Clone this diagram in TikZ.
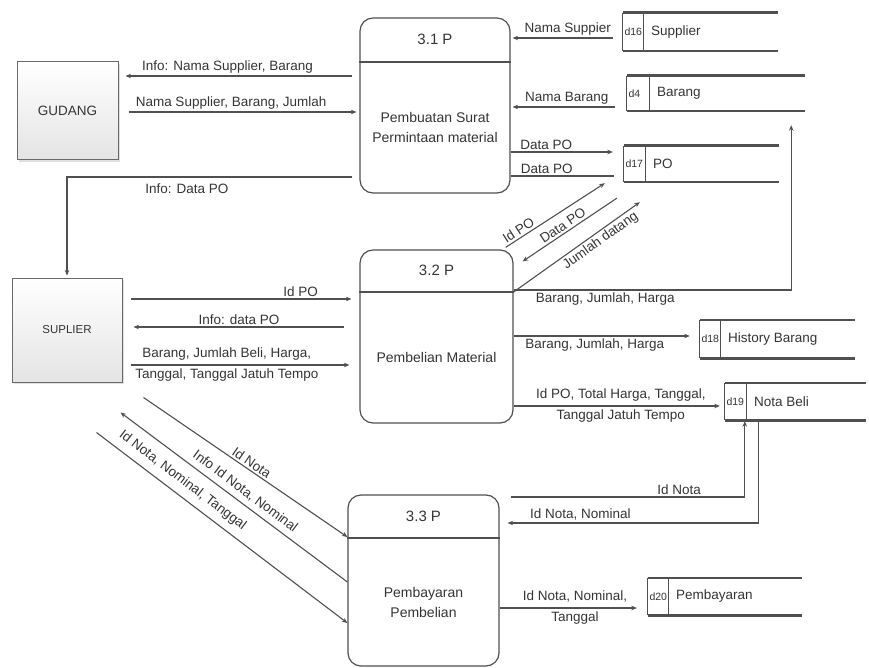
\documentclass[tikz,border=0pt]{standalone}
\usepackage{fontspec}
\setmainfont{Liberation Sans}
\usetikzlibrary{arrows.meta,calc,shadows}
\definecolor{lc}{HTML}{505050}
\definecolor{tc}{HTML}{353535}
\definecolor{boxfill}{HTML}{EFEFEF}
\newcommand\lblfont{\fontsize{13.5}{16}\selectfont}
\newcommand\idfont{\fontsize{10.5}{12}\selectfont}
\newcommand\ttlfont{\fontsize{15}{18}\selectfont}
\tikzset{
  line/.style={draw=lc, line width=1.1pt},
  flow/.style={line, -{Stealth[length=5.5pt,width=4.5pt]}},
  proc/.style={draw=lc, line width=1.2pt, rounded corners=13pt, inner sep=0pt},
  ext/.style={draw=lc!85, top color=white, bottom color=boxfill!90!gray, line width=1pt, inner sep=0pt,
    drop shadow={shadow xshift=2pt, shadow yshift=-2pt, opacity=.25}},
  storebox/.style={inner sep=0pt},
  storeedge/.style={draw=lc, line width=2.6pt},
  storeside/.style={draw=lc, line width=1.3pt},
  lbl/.style={font=\lblfont, text=tc, inner sep=2pt},
  lbltwo/.style={font=\lblfont, text=tc, inner sep=0pt, align=center},
  idlbl/.style={font=\idfont, text=tc, inner sep=0pt},
  ttl/.style={font=\ttlfont, text=tc, inner sep=0pt},
  body/.style={font=\fontsize{14}{20}\selectfont, text=tc, inner sep=0pt, align=center},
}
\newcommand\dfdstore[4]{%
  \draw[storeedge] (#1.north west) -- (#1.north east);
  \draw[storeedge] (#1.south west) -- (#1.south east);
  \draw[storeside] (#1.north west) -- (#1.south west);
  \coordinate (#1div) at ($(#1.north west)+(#2,0)$);
  \draw[storeside] (#1div) -- (#1div |- #1.south);
  \node[idlbl, anchor=west] (#1id) at ($(#1.west)+(1.5,0)$) {#3};
  \node[lbl, anchor=west] (#1name) at ($(#1div |- #1.west)+(5,0)$) {#4};
}
\begin{document}
\begin{tikzpicture}[x=1pt, y=-1pt]
\useasboundingbox (0,0) rectangle (869,668);
\fill[white] (0,0) rectangle (869,668);

% external entities
\node[ext, minimum width=101pt, minimum height=98pt] (gudang) at (67.5,111) {};
\node[font=\fontsize{13.5}{16}\selectfont, text=tc] (gudangtxt) at (gudang.center) {GUDANG};
\node[ext, minimum width=110pt, minimum height=104pt] (suplier) at (67,330) {};
\node[font=\fontsize{11.5}{14}\selectfont, text=tc] (supliertxt) at (suplier.center) {SUPLIER};

% processes
\node[proc, minimum width=150pt, minimum height=175pt] (p31) at (435,105.5) {};
\draw[line, line width=1.2pt] (p31.west |- 0,62) -- (p31.east |- 0,62);
\node[ttl] (p31t) at ($(p31.north)!.5!(p31.north |- 0,62)$) {3.1 P};
\node[body] (p31b) at ($(p31.south)!.5!(p31.south |- 0,62)$) {Pembuatan Surat\\Permintaan material};

\node[proc, minimum width=153pt, minimum height=173pt] (p32) at (436.5,336.5) {};
\draw[line, line width=1.2pt] (p32.west |- 0,292) -- (p32.east |- 0,292);
\node[ttl] (p32t) at ($(p32.north)!.5!(p32.north |- 0,292)$) {3.2 P};
\node[body] (p32b) at ($(p32.south)!.5!(p32.south |- 0,292)$) {Pembelian Material};

\node[proc, minimum width=151pt, minimum height=171pt] (p33) at (423.5,580.5) {};
\draw[line, line width=1.2pt] (p33.west |- 0,538) -- (p33.east |- 0,538);
\node[ttl] (p33t) at ($(p33.north)!.5!(p33.north |- 0,538)$) {3.3 P};
\node[body] (p33b) at ($(p33.south)!.5!(p33.south |- 0,538)$) {Pembayaran\\Pembelian};

% data stores
\node[storebox, minimum width=155pt, minimum height=38pt] (d16) at (700.5,32) {};
\dfdstore{d16}{21}{d16}{Supplier}
\node[storebox, minimum width=178pt, minimum height=35pt] (d4) at (716,93.5) {};
\dfdstore{d4}{23}{d4}{Barang}
\node[storebox, minimum width=155pt, minimum height=36pt] (d17) at (701.5,164) {};
\dfdstore{d17}{22}{d17}{PO}
\node[storebox, minimum width=155pt, minimum height=38pt] (d18) at (777.5,339) {};
\dfdstore{d18}{21}{d18}{History Barang}
\node[storebox, minimum width=141pt, minimum height=37pt] (d19) at (795.5,401.5) {};
\dfdstore{d19}{22}{d19}{Nota Beli}
\node[storebox, minimum width=154pt, minimum height=37pt] (d20) at (725,596.5) {};
\dfdstore{d20}{21}{d20}{Pembayaran}

% GUDANG <-> 3.1
\draw[flow] ($(p31.west |- 0,76)+(-7,0)$) -- node[lbl, above, pos=.55]{Info: Nama Supplier, Barang} ($(gudang.east |- 0,76)+(7,0)$);
\draw[flow] ($(gudang.east |- 0,112)+(10,0)$) -- node[lbl, above, pos=.45]{Nama Supplier, Barang, Jumlah} ($(p31.west |- 0,112)+(-3,0)$);
\draw[flow] ($(p31.west |- 0,177)+(-7,0)$) -| node[lbl, below=4pt, pos=.29]{Info: Data PO} ($(suplier.north)+(0,-2)$);

% stores <-> 3.1
\draw[flow] ($(d16.west)+(-10,6)$) -- node[lbl, above, pos=.45]{Nama Suppier} ($(p31.east |- 0,38)+(2,0)$);
\draw[flow] ($(d4.west)+(-12,13.5)$) -- node[lbl, above, pos=.47]{Nama Barang} ($(p31.east |- 0,107)+(2,0)$);
\draw[flow] (p31.east |- 0,152) -- node[lbl, above, pos=.35]{Data PO} ($(d17.west)+(-11,-12)$);
\draw[line] (p31.east |- 0,176) -- node[lbl, above, pos=.35]{Data PO} ($(d17.west)+(-10,12)$);

% PO <-> 3.2
\draw[flow] ($(p32.north east)+(-8,-2)$) -- node[lbl, above, sloped, pos=.17]{Id PO} ($(d17.south west)+(-19,1)$);
\draw[flow] ($(d17.south west)+(-7,16)$) -- node[lbl, above, sloped, pos=.53]{Data PO} ($(p32.north east)+(9,12)$);
\draw[flow] (p32.east |- 0,292) -- node[lbl, below, sloped, pos=.65]{Jumlah datang} ($(d17.south west)+(16,20)$);

% 3.2 -> stores
\draw[flow] (p32.east |- 0,290) -| node[lbl, below, pos=.165]{Barang, Jumlah, Harga} ($(d4.south east)+(-14,14)$);
\draw[flow] (p32.east |- 0,336) -- node[lbl, below, pos=.46]{Barang, Jumlah, Harga} ($(d18.west)+(-10,-3)$);
\draw[flow] (p32.east |- 0,406) -- node[lbltwo, pos=.52]{Id PO, Total Harga, Tanggal,\\[5pt]Tanggal Jatuh Tempo} ($(d19.west)+(-5,4.5)$);

% SUPLIER <-> 3.2
\draw[flow] ($(suplier.east |- 0,299)+(8,0)$) -- node[lbl, above, pos=.77]{Id PO} ($(p32.west |- 0,299)+(-8,0)$);
\draw[flow] ($(p32.west |- 0,327)+(-15,0)$) -- node[lbl, above, pos=.5]{Info: data PO} ($(suplier.east |- 0,327)+(11,0)$);
\draw[flow] ($(suplier.east |- 0,365)+(8,0)$) -- node[lbltwo, pos=.44]{Barang, Jumlah Beli, Harga,\\[5pt]Tanggal, Tanggal Jatuh Tempo} ($(p32.west |- 0,365)+(-10,0)$);

% 3.3 <-> Nota Beli
\draw[flow] ($(p33.east |- 0,497)+(11,0)$) -| node[lbl, above, pos=.36]{Id Nota} ($(d19.south west)+(20,1)$);
\draw[flow] ($(d19.south west)+(34,0)$) |- node[lbl, above, pos=.855]{Id Nota, Nominal} ($(p33.east |- 0,523)+(8,0)$);

% 3.3 -> Pembayaran
\draw[flow] (p33.east |- 0,608) -- node[lbltwo, pos=.55]{Id Nota, Nominal,\\[5pt]Tanggal} ($(d20.west)+(-11,11.5)$);

% SUPLIER <-> 3.3
\draw[flow] ($(suplier.south east)+(21,15)$) -- node[lbl, above, sloped, pos=.51]{Id Nota} (p33.west |- 0,537);
\draw[flow] (p33.west |- 0,582) -- node[lbl, above=3pt, sloped, pos=.48]{Info Id Nota, Nominal} ($(suplier.south east)+(-2,30)$);
\draw[flow] ($(suplier.south west)+(85,50)$) -- node[lbl, above=5pt, sloped, pos=.31]{Id Nota, Nominal, Tanggal} (p33.west |- 0,623);
\end{tikzpicture}
\end{document}
